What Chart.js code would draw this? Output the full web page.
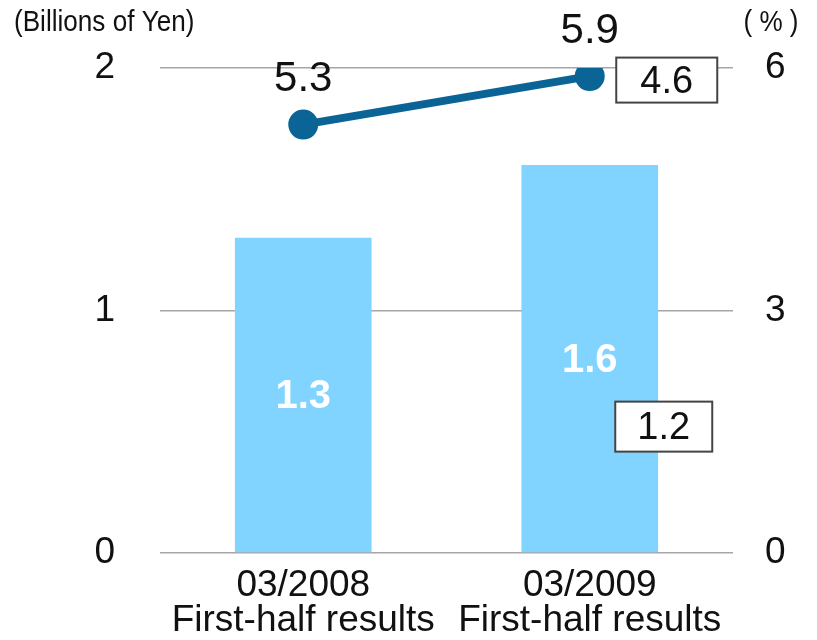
<!DOCTYPE html>
<html>
<head>
<meta charset="utf-8">
<script src="https://cdn.jsdelivr.net/npm/chart.js@4/dist/chart.umd.min.js"></script>
<style>
  html, body { margin: 0; padding: 0; background: #fff; }
  #wrap { width: 817px; height: 640px; }
</style>
</head>
<body>
<div id="wrap"><canvas id="chart" width="817" height="640"></canvas></div>
<script>
const categories = [['03/2008', 'First-half results'], ['03/2009', 'First-half results']];
const profit = [1.3, 1.6];        // billions of yen
const margin = [5.3, 5.9];        // %
const boxedMargin = 4.6;          // boxed note next to the 2009 margin
const boxedProfit = 1.2;          // boxed note next to the 2009 bar
const leftTicks = [0, 1, 2];
const rightTicks = [0, 3, 6];

const FONT = "'Liberation Sans', Arial, sans-serif";

function boxText(ctx, text, cx, cy, w, h) {
  ctx.save();
  ctx.fillStyle = '#fff';
  ctx.strokeStyle = '#444';
  ctx.lineWidth = 2;
  ctx.fillRect(cx - w / 2, cy - h / 2, w, h);
  ctx.strokeRect(cx - w / 2, cy - h / 2, w, h);
  ctx.fillStyle = '#111';
  ctx.font = '38px ' + FONT;
  ctx.textAlign = 'center';
  ctx.textBaseline = 'middle';
  ctx.fillText(text, cx, cy + 2);
  ctx.restore();
}

const labelsPlugin = {
  id: 'labels',
  afterDatasetsDraw(chart) {
    const ctx = chart.ctx;
    const bars = chart.getDatasetMeta(0).data;
    const points = chart.getDatasetMeta(1).data;

    ctx.save();
    ctx.textAlign = 'center';
    ctx.textBaseline = 'middle';

    // values inside the bars
    ctx.fillStyle = '#fff';
    ctx.font = 'bold 40px ' + FONT;
    bars.forEach((b, i) => {
      ctx.fillText(profit[i].toFixed(1), b.x, (b.y + b.base) / 2 + 2);
    });

    // values above the margin line
    ctx.fillStyle = '#111';
    ctx.font = '42px ' + FONT;
    points.forEach((p, i) => {
      ctx.fillText(margin[i].toFixed(1), p.x, p.y - 45);
    });

    // unit captions
    ctx.font = '29px ' + FONT;
    ctx.textAlign = 'left';
    ctx.save();
    ctx.translate(14, 23);
    ctx.scale(0.9, 1);
    ctx.fillText('(Billions of Yen)', 0, 0);
    ctx.restore();
    ctx.textAlign = 'center';
    ctx.save();
    ctx.translate(771, 23);
    ctx.scale(0.9, 1);
    ctx.fillText('( % )', 0, 0);
    ctx.restore();
    ctx.restore();

    boxText(ctx, boxedMargin.toFixed(1), points[1].x + 77, points[1].y + 4, 101, 45);
    const b = bars[1];
    boxText(ctx, boxedProfit.toFixed(1), b.x + 74, (b.y + b.base) / 2 + 68, 97, 50);
  }
};

new Chart(document.getElementById('chart'), {
  type: 'bar',
  data: {
    labels: categories,
    datasets: [
      {
        type: 'bar',
        data: profit,
        yAxisID: 'y',
        backgroundColor: '#80D4FF',
        categoryPercentage: 1,
        barPercentage: 0.477,
        order: 2
      },
      {
        type: 'line',
        data: margin,
        yAxisID: 'y2',
        borderColor: '#0A6496',
        backgroundColor: '#0A6496',
        borderWidth: 8,
        pointRadius: 11,
        pointHoverRadius: 11,
        order: 1
      }
    ]
  },
  options: {
    responsive: false,
    animation: false,
    layout: { padding: { top: 68, left: 0, right: 0, bottom: 0 } },
    plugins: {
      legend: { display: false },
      tooltip: { enabled: false }
    },
    scales: {
      x: {
        grid: { display: false, drawTicks: false },
        border: { display: false },
        ticks: {
          color: '#111',
          font: { family: FONT, size: 37, lineHeight: 0.95 },
          padding: 15
        },
        afterFit: s => { s.height = 87; }
      },
      y: {
        position: 'left',
        min: 0,
        max: 2,
        afterBuildTicks: s => { s.ticks = leftTicks.map(v => ({ value: v })); },
        grid: { color: '#A6A6A6', lineWidth: 1.5, drawTicks: false },
        border: { display: false },
        ticks: {
          color: '#111',
          font: { family: FONT, size: 37 },
          padding: 45
        },
        afterFit: s => { s.width = 160; }
      },
      y2: {
        position: 'right',
        min: 0,
        max: 6,
        afterBuildTicks: s => { s.ticks = rightTicks.map(v => ({ value: v })); },
        grid: { display: false, drawTicks: false },
        border: { display: false },
        ticks: {
          color: '#111',
          font: { family: FONT, size: 37 },
          padding: 32
        },
        afterFit: s => { s.width = 84; }
      }
    }
  },
  plugins: [labelsPlugin]
});
</script>
</body>
</html>
